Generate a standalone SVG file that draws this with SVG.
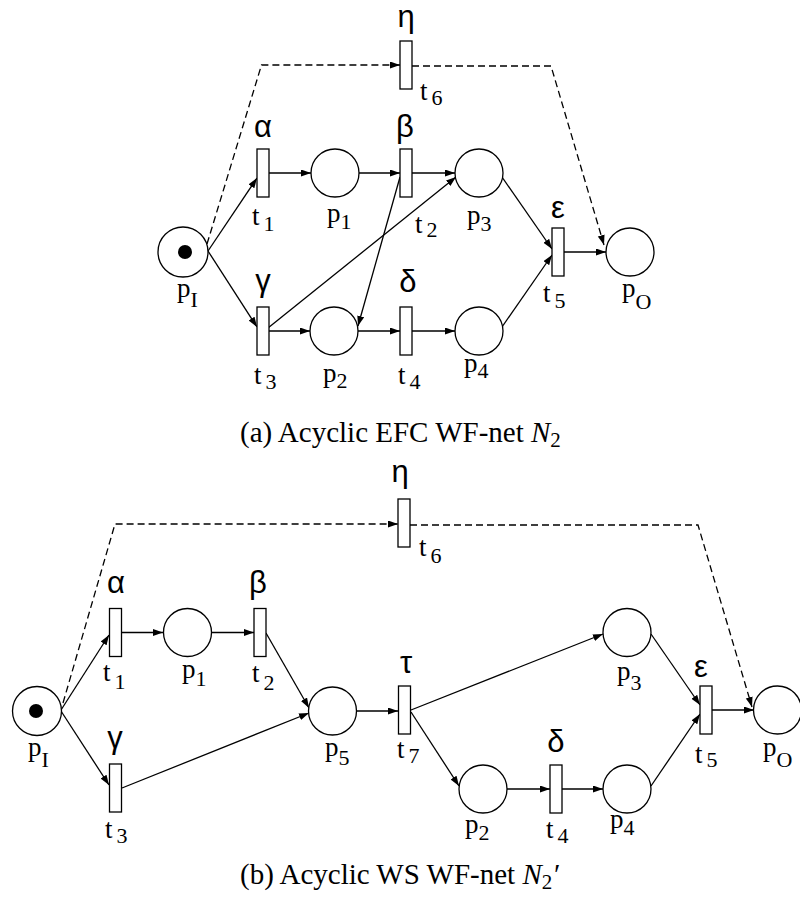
<svg xmlns="http://www.w3.org/2000/svg" width="800" height="906" viewBox="0 0 800 906">
<style>
.tr{fill:#fff;stroke:#000;stroke-width:1.3}
.pl{fill:#fff;stroke:#000;stroke-width:1.3}
.tok{fill:#000}
.e{fill:none;stroke:#000;stroke-width:1.3;marker-end:url(#ah)}
.d{fill:none;stroke:#000;stroke-width:1.3;stroke-dasharray:7,4;marker-end:url(#ah)}
.lb{font-family:"Liberation Serif","Times New Roman",serif;font-size:27px;fill:#000}
.sb{font-size:22px}
.gk{font-family:"Liberation Sans",Arial,sans-serif;font-size:31px;fill:#000;text-anchor:middle}
.cap{font-family:"Liberation Serif","Times New Roman",serif;font-size:29px;fill:#000}
</style>
<defs>
<marker id="ah" markerUnits="userSpaceOnUse" markerWidth="11" markerHeight="8" refX="10" refY="3.5" orient="auto">
<path d="M0,0 L10,3.5 L0,7 z" fill="#000"/>
</marker>
</defs>
<g id="connectors-a">
<path class="e" d="M208,251 L257,178"/>
<path class="e" d="M208,251 L257,327"/>
<path class="d" d="M207,244 L261.5,65 L400,65"/>
<path class="e" d="M269,173 L311,173"/>
<path class="e" d="M359,173 L400,173"/>
<path class="e" d="M412,173 L455,173"/>
<path class="e" d="M268,328 L456,177"/>
<path class="e" d="M400,177 L358,326"/>
<path class="e" d="M269,331 L310,331"/>
<path class="e" d="M358,331 L400,331"/>
<path class="e" d="M412,331 L455,331"/>
<path class="e" d="M502,177 L552,249"/>
<path class="e" d="M502,327 L552,255"/>
<path class="e" d="M564,252 L606,252"/>
<path class="d" d="M412,66 L551,66 L604,245"/>
</g>
<g id="connectors-b">
<path class="e" d="M61,710 L109,635"/>
<path class="e" d="M61,711 L109,785"/>
<path class="d" d="M63,703 L115,524 L398,524"/>
<path class="e" d="M122,632.5 L163,632.5"/>
<path class="e" d="M212,632.5 L254,632.5"/>
<path class="e" d="M266,633 L309,708"/>
<path class="e" d="M122,788 L309,713"/>
<path class="e" d="M357,711 L398,711"/>
<path class="e" d="M411,710 L603,634"/>
<path class="e" d="M411,712 L459,786"/>
<path class="e" d="M507,789 L550,789"/>
<path class="e" d="M562,789 L603,789"/>
<path class="e" d="M651,634 L700,705"/>
<path class="e" d="M651,786 L700,714"/>
<path class="e" d="M712,710 L754,710"/>
<path class="d" d="M410,525 L698,525 L752,707"/>
</g>
<!-- Diagram (a) -->
<g id="a-pI"><circle class="pl" cx="183" cy="252" r="25"/><circle class="tok" cx="185" cy="252" r="7"/><text class="lb" x="177" y="297">p<tspan class="sb" dy="10">I</tspan></text></g>
<g id="a-t1"><rect class="tr" x="257" y="149" width="12" height="48"/><text class="gk" x="263" y="137">α</text><text class="lb" x="252" y="225">t<tspan class="sb" dx="4" dy="6">1</tspan></text></g>
<g id="a-p1"><circle class="pl" cx="335" cy="173" r="24"/><text class="lb" x="327" y="222">p<tspan class="sb" dy="7">1</tspan></text></g>
<g id="a-t2"><rect class="tr" x="400" y="149" width="12" height="48"/><text class="gk" x="405" y="137">β</text><text class="lb" x="415" y="233">t<tspan class="sb" dx="4" dy="4">2</tspan></text></g>
<g id="a-p3"><circle class="pl" cx="479" cy="173" r="24"/><text class="lb" x="467" y="224">p<tspan class="sb" dy="7">3</tspan></text></g>
<g id="a-t3"><rect class="tr" x="257" y="307" width="12" height="48"/><text class="gk" x="263" y="291">γ</text><text class="lb" x="254" y="384">t<tspan class="sb" dx="4" dy="5">3</tspan></text></g>
<g id="a-p2"><circle class="pl" cx="334" cy="331" r="24"/><text class="lb" x="323" y="382">p<tspan class="sb" dy="6">2</tspan></text></g>
<g id="a-t4"><rect class="tr" x="400" y="307" width="12" height="48"/><text class="gk" x="408" y="292">δ</text><text class="lb" x="398" y="384">t<tspan class="sb" dx="4" dy="5">4</tspan></text></g>
<g id="a-p4"><circle class="pl" cx="479" cy="331" r="24"/><text class="lb" x="464" y="372">p<tspan class="sb" dy="6">4</tspan></text></g>
<g id="a-t5"><rect class="tr" x="552" y="228" width="12" height="48"/><text class="gk" x="558" y="218">ε</text><text class="lb" x="543" y="302">t<tspan class="sb" dx="4" dy="6">5</tspan></text></g>
<g id="a-pO"><circle class="pl" cx="630" cy="252" r="24"/><text class="lb" x="622" y="297">p<tspan class="sb" dy="12">O</tspan></text></g>
<g id="a-t6"><rect class="tr" x="400" y="41" width="12" height="48"/><text class="gk" x="406" y="27">η</text><text class="lb" x="420" y="100">t<tspan class="sb" dx="4" dy="5">6</tspan></text></g>
<text class="cap" x="240" y="442">(a) Acyclic EFC WF-net <tspan font-style="italic">N</tspan><tspan font-size="21" dy="5">2</tspan></text>
<!-- Diagram (b) -->
<g id="b-pI"><circle class="pl" cx="37" cy="711" r="24.5"/><circle class="tok" cx="36" cy="711" r="7"/><text class="lb" x="28" y="756">p<tspan class="sb" dy="11">I</tspan></text></g>
<g id="b-t1"><rect class="tr" x="109.5" y="608.5" width="12" height="48"/><text class="gk" x="116" y="593">α</text><text class="lb" x="103" y="681">t<tspan class="sb" dx="4" dy="8">1</tspan></text></g>
<g id="b-p1"><circle class="pl" cx="187.5" cy="632.5" r="24"/><text class="lb" x="182" y="678">p<tspan class="sb" dy="8">1</tspan></text></g>
<g id="b-t2"><rect class="tr" x="254" y="608.5" width="12" height="48"/><text class="gk" x="258" y="593">β</text><text class="lb" x="252" y="682">t<tspan class="sb" dx="4" dy="8">2</tspan></text></g>
<g id="b-t3"><rect class="tr" x="109.5" y="764" width="12" height="48"/><text class="gk" x="115" y="748">γ</text><text class="lb" x="105" y="838">t<tspan class="sb" dx="4" dy="5">3</tspan></text></g>
<g id="b-p5"><circle class="pl" cx="332.5" cy="711" r="24"/><text class="lb" x="325" y="756">p<tspan class="sb" dy="9">5</tspan></text></g>
<g id="b-t7"><rect class="tr" x="398.5" y="686" width="12" height="48"/><text class="gk" x="406" y="673">τ</text><text class="lb" x="397" y="758">t<tspan class="sb" dx="4" dy="5">7</tspan></text></g>
<g id="b-p3"><circle class="pl" cx="627" cy="632.5" r="24"/><text class="lb" x="617" y="680">p<tspan class="sb" dy="10">3</tspan></text></g>
<g id="b-p2"><circle class="pl" cx="483" cy="789" r="24"/><text class="lb" x="465" y="833">p<tspan class="sb" dy="7">2</tspan></text></g>
<g id="b-t4"><rect class="tr" x="550" y="765" width="12" height="48"/><text class="gk" x="556" y="752">δ</text><text class="lb" x="546" y="838">t<tspan class="sb" dx="4" dy="5">4</tspan></text></g>
<g id="b-p4"><circle class="pl" cx="627" cy="789" r="24"/><text class="lb" x="610" y="828">p<tspan class="sb" dy="7">4</tspan></text></g>
<g id="b-t5"><rect class="tr" x="700" y="686" width="12" height="48"/><text class="gk" x="701" y="677">ε</text><text class="lb" x="695" y="763">t<tspan class="sb" dx="4" dy="4">5</tspan></text></g>
<g id="b-pO"><circle class="pl" cx="777.5" cy="710" r="24"/><text class="lb" x="763" y="756">p<tspan class="sb" dy="11">O</tspan></text></g>
<g id="b-t6"><rect class="tr" x="398" y="499" width="12" height="48"/><text class="gk" x="400" y="482">η</text><text class="lb" x="419" y="556">t<tspan class="sb" dx="4" dy="7">6</tspan></text></g>
<text class="cap" x="240" y="884">(b) Acyclic WS WF-net <tspan font-style="italic">N</tspan><tspan font-size="21" dy="5">2</tspan><tspan font-style="italic" dy="-5">′</tspan></text>
</svg>
